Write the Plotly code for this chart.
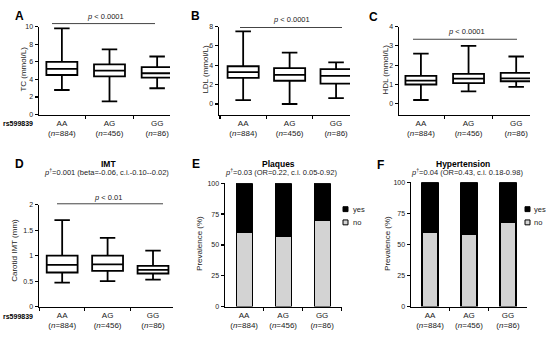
import plotly.graph_objects as go

W, H = 550, 339
FONT = "Liberation Sans, Arial, sans-serif"


def px(x):
    return x / W


def py(y):
    return 1 - y / H


# ---------------- data ----------------
genotypes = ["AA", "AG", "GG"]
n_counts = [884, 456, 86]

tc_upper = [9.8, 7.4, 6.6]
tc_q3 = [6.0, 5.7, 5.4]
tc_median = [5.2, 5.0, 4.7]
tc_q1 = [4.5, 4.35, 4.2]
tc_lower = [2.8, 1.5, 3.0]

ldl_upper = [7.5, 5.3, 4.3]
ldl_q3 = [3.9, 3.7, 3.6]
ldl_median = [3.3, 3.0, 2.9]
ldl_q1 = [2.7, 2.4, 2.1]
ldl_lower = [0.4, 0.0, 0.6]

hdl_upper = [2.6, 3.0, 2.45]
hdl_q3 = [1.45, 1.55, 1.6]
hdl_median = [1.2, 1.3, 1.32]
hdl_q1 = [1.0, 1.07, 1.17]
hdl_lower = [0.2, 0.65, 0.88]

imt_upper = [1.7, 1.35, 1.1]
imt_q3 = [1.0, 1.0, 0.8]
imt_median = [0.82, 0.83, 0.72]
imt_q1 = [0.67, 0.70, 0.65]
imt_lower = [0.47, 0.50, 0.53]

plaques_no = [60, 57, 70]
hypertension_no = [60, 58, 68]

tc_ticks = [0, 2, 4, 6, 8, 10]
ldl_ticks = [0, 2, 4, 6, 8]
hdl_ticks = [0, 1, 2, 3, 4]
imt_ticks = [0, 0.5, 1, 1.5, 2]
prev_ticks = [0, 25, 50, 75, 100]

cat_labels = [f"{g}<br>(<i>n</i>={n})" for g, n in zip(genotypes, n_counts)]

fig = go.Figure()

box_panels = [
    # (axis suffix, upper, q3, med, q1, lower, width)
    ("", tc_upper, tc_q3, tc_median, tc_q1, tc_lower, 0.65),
    ("2", ldl_upper, ldl_q3, ldl_median, ldl_q1, ldl_lower, 0.67),
    ("3", hdl_upper, hdl_q3, hdl_median, hdl_q1, hdl_lower, 0.65),
    ("4", imt_upper, imt_q3, imt_median, imt_q1, imt_lower, 0.68),
]
for suf, up, q3, med, q1, lo, w in box_panels:
    fig.add_trace(go.Box(
        x=cat_labels, q1=q1, median=med, q3=q3,
        lowerfence=lo, upperfence=up,
        xaxis="x" + suf, yaxis="y" + suf,
        fillcolor="white", line=dict(color="black", width=1.8),
        whiskerwidth=0.5, width=w, boxpoints=False,
        showlegend=False, hoverinfo="skip",
    ))

bar_panels = [("5", plaques_no), ("6", hypertension_no)]
for suf, no_vals in bar_panels:
    yes_vals = [100 - v for v in no_vals]
    fig.add_trace(go.Bar(
        x=cat_labels, y=no_vals, name="no", xaxis="x" + suf, yaxis="y" + suf,
        marker=dict(color="#d3d3d3", line=dict(color="black", width=1.2)),
        width=0.41, showlegend=False,
    ))
    fig.add_trace(go.Bar(
        x=cat_labels, y=yes_vals, name="yes", xaxis="x" + suf, yaxis="y" + suf,
        marker=dict(color="black", line=dict(color="black", width=1.2)),
        width=0.41, showlegend=False,
    ))

common_x = dict(
    showline=True, linecolor="black", linewidth=1.5, ticks="outside",
    ticklen=3, tickwidth=1.2, tickcolor="black", tickson="boundaries",
    showgrid=False, zeroline=False, tickfont=dict(size=8, family=FONT, color="#222"),
    fixedrange=True, type="category",
)
common_y = dict(
    showline=True, linecolor="black", linewidth=1.5, ticks="outside",
    ticklen=3, tickwidth=1.2, tickcolor="black", showgrid=False, zeroline=False,
    tickfont=dict(size=7, family=FONT, color="#222"), fixedrange=True,
)

# (suffix, x domain px, x range, y domain px (top,bottom), y range, tickvals)
panels = [
    ("", (39, 170), (-0.48, 2.27), (23, 113), (0, 10), tc_ticks),
    ("2", (219, 350), (-0.52, 2.30), (23, 113), (-1.1, 8), ldl_ticks),
    ("3", (399, 530), (-0.46, 2.29), (23, 113), (-0.56, 4), hdl_ticks),
    ("4", (39, 173), (-0.51, 2.44), (205, 309), (0, 2), imt_ticks),
    ("5", (225, 342), (-0.49, 2.51), (183, 309), (0, 100), prev_ticks),
    ("6", (411, 527), (-0.49, 2.49), (182, 309), (0, 100), prev_ticks),
]
layout_axes = {}
for suf, xd, xr, yd, yr, tv in panels:
    xa = dict(common_x, domain=[px(xd[0]), px(xd[1])], range=list(xr),
              anchor="y" + suf)
    ya = dict(common_y, domain=[py(yd[1]), py(yd[0])], range=list(yr),
              anchor="x" + suf, tickvals=tv, ticktext=[f"{t:g}" for t in tv])
    layout_axes["xaxis" + suf] = xa
    layout_axes["yaxis" + suf] = ya

fig.update_layout(**layout_axes)

ann = []


def text(x, y, s, size=7.5, bold=False, anchor="center", angle=0, color="#222"):
    ann.append(dict(
        x=px(x), y=py(y), xref="paper", yref="paper", text=f"<b>{s}</b>" if bold else s,
        showarrow=False, xanchor=anchor, yanchor="middle", textangle=angle,
        font=dict(size=size, family=FONT, color=color),
    ))


# panel letters
for letter, x, y in [("A", 13, 12), ("B", 189, 12), ("C", 367, 13),
                     ("D", 13, 163), ("E", 190, 163), ("F", 375, 164)]:
    text(x, y, letter, size=12, bold=True, anchor="left", color="black")

# titles / subtitles
text(108, 163, "IMT", size=8.5, bold=True, color="black")
text(278, 163, "Plaques", size=8.5, bold=True, color="black")
text(463, 163, "Hypertension", size=8.5, bold=True, color="black")
text(106, 172, "<i>p</i><sup>†</sup>=0.001 (beta=-0.06, c.i.-0.10--0.02)")
text(281, 172, "<i>p</i><sup>†</sup>=0.03 (OR=0.22, c.i. 0.05-0.92)")
text(467, 172, "<i>p</i><sup>†</sup>=0.04 (OR=0.43, c.i. 0.18-0.98)")

# y titles
text(24, 67, "TC (mmol/L)", size=8, angle=-90)
text(206, 67, "LDL (mmol/L)", size=8, angle=-90)
text(386, 67, "HDL (mmol/L)", size=8, angle=-90)
text(15, 252, "Carotid IMT (mm)", size=8, angle=-90)
text(200, 245, "Prevalence (%)", size=8, angle=-90)
text(388, 245, "Prevalence (%)", size=8, angle=-90)

# rs label
text(18, 122, "rs599839", size=7, bold=True, color="black")
text(18, 319, "rs599839", size=7, bold=True, color="black")

# p-value labels and lines
shapes = []
for (x0, x1, yl, xt, yt, s) in [
    (52, 155, 20, 105, 13, "<i>p</i> < 0.0001"),
    (240, 342, 24, 291, 16, "<i>p</i> < 0.0001"),
    (413, 517, 36, 466, 28, "<i>p</i> < 0.0001"),
    (57, 163, 204, 108, 198, "<i>p</i> < 0.01"),
]:
    text(xt, yt, s)
    shapes.append(dict(type="line", xref="paper", yref="paper",
                       x0=px(x0), x1=px(x1), y0=py(yl), y1=py(yl),
                       line=dict(color="#444", width=1)))

# legends for E and F
for (sx, tx) in [(343, 351), (525, 532)]:
    shapes.append(dict(type="rect", xref="paper", yref="paper",
                       x0=px(sx), x1=px(sx + 5), y0=py(212), y1=py(207),
                       fillcolor="black", line=dict(color="black", width=1)))
    shapes.append(dict(type="rect", xref="paper", yref="paper",
                       x0=px(sx), x1=px(sx + 5), y0=py(225.5), y1=py(220.5),
                       fillcolor="#d3d3d3", line=dict(color="black", width=1)))
    text(tx, 209.5, "yes", anchor="left")
    text(tx, 223, "no", anchor="left")

fig.update_layout(
    width=W, height=H, margin=dict(l=0, r=0, t=0, b=0),
    paper_bgcolor="white", plot_bgcolor="white",
    barmode="stack", showlegend=False,
    annotations=ann, shapes=shapes,
    font=dict(family=FONT, size=7.5, color="#222"),
)

fig.write_html(
    "out.html",
    config={"displayModeBar": False, "staticPlot": True},
    post_script="document.body.style.margin='0';document.body.style.overflow='hidden';",
)
